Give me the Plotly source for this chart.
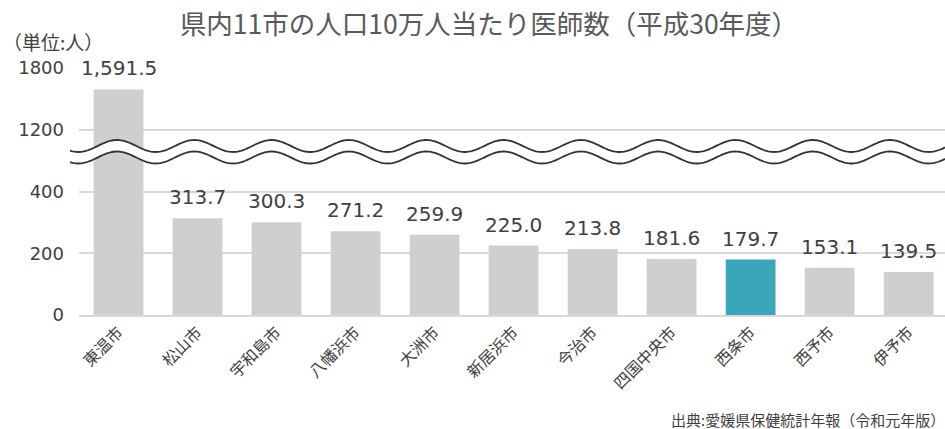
import math
import plotly.graph_objects as go

# ---- data ----
cities = ["東温市", "松山市", "宇和島市", "八幡浜市", "大洲市", "新居浜市",
          "今治市", "四国中央市", "西条市", "西予市", "伊予市"]
doctors = [1591.5, 313.7, 300.3, 271.2, 259.9, 225.0, 213.8, 181.6, 179.7, 153.1, 139.5]
highlight_city = "西条市"
ytick_labels = [0, 200, 400, 1200, 1800]

TITLE = "県内11市の人口10万人当たり医師数（平成30年度）"
UNIT = "（単位:人）"
SOURCE = "出典:愛媛県保健統計年報（令和元年版）"

# ---- broken-axis mapping (0-400 linear, then 1200-1800 compressed) ----
def mapy(v):
    return v if v <= 400 else 600 + (v - 1200) / 3.0

mapped = [mapy(v) for v in doctors]
tickvals = [mapy(v) for v in ytick_labels]

GRAY = "#D0CECF"
TEAL = "#3AA6B9"
TXT = "#404040"
colors = [TEAL if c == highlight_city else GRAY for c in cities]

W, H = 945, 429
ML, MR, MT, MB = 79, 0, 68, 114
PW = W - ML - MR
PH = H - MT - MB
YMAX = 800

fig = go.Figure()
fig.add_trace(go.Bar(
    x=cities, y=mapped, marker=dict(color=colors, line=dict(width=0)),
    hoverinfo="skip", showlegend=False,
))

# value labels
for c, v, m in zip(cities, doctors, mapped):
    fig.add_annotation(
        x=c, y=m, text=f"{v:,.1f}", showarrow=False, yanchor="middle", yshift=21,
        font=dict(family="DejaVu Sans", size=20, color=TXT),
    )

# ---- wavy break band ----
def px_to_paper(xp):
    return (xp - ML) / PW

def py_to_data(yp):
    return (MT + PH - yp) / PH * YMAX

period = 77.3
x0p, x1p = 70, 945
amp = 6.0
def wave(center_px):
    pts = []
    n = int((x1p - x0p) / 1.5) + 1
    for i in range(n + 1):
        xp = x0p + (x1p - x0p) * i / n
        yp = center_px - amp * math.cos(2 * math.pi * (xp - 117) / period)
        pts.append((px_to_paper(xp), py_to_data(yp)))
    return pts

up = wave(146.0)
lo = wave(157.5)
def path_of(pts, start="M"):
    s = f"{start} {pts[0][0]:.5f},{pts[0][1]:.3f}"
    for x, y in pts[1:]:
        s += f" L {x:.5f},{y:.3f}"
    return s

fill_path = path_of(up) + " " + path_of(lo[::-1], start="L") + " Z"
fig.add_shape(type="path", path=fill_path, xref="paper", yref="y",
              fillcolor="white", line=dict(width=0), layer="above")
for pts in (up, lo):
    fig.add_shape(type="path", path=path_of(pts), xref="paper", yref="y",
                  line=dict(color="#333333", width=1.8), layer="above")

# unit + source
fig.add_annotation(text=UNIT, xref="paper", yref="paper",
                   x=px_to_paper(1), y=(MT + PH - 42) / PH, xanchor="left", yanchor="middle",
                   showarrow=False, font=dict(family="Noto Sans CJK JP", size=19, color=TXT))
fig.add_annotation(text=SOURCE, xref="paper", yref="paper",
                   x=px_to_paper(947), y=(MT + PH - 419) / PH, xanchor="right", yanchor="middle",
                   showarrow=False, font=dict(family="Noto Sans CJK JP", size=15, color=TXT))

fig.update_layout(
    width=W, height=H,
    margin=dict(l=ML, r=MR, t=MT, b=MB, pad=0, autoexpand=False),
    paper_bgcolor="white", plot_bgcolor="white",
    bargap=0.37,
    title=dict(text=TITLE, x=489 / W, xref="container", xanchor="center",
               y=1 - 25 / H, yref="container", yanchor="middle",
               font=dict(family="Noto Sans CJK JP", size=26.5, color="#595959")),
    xaxis=dict(range=[-0.5, 10.46], tickangle=-45, showgrid=False, showline=True,
               linecolor="#D9D9D9", linewidth=1.5, ticks="", automargin=False,
               tickfont=dict(family="Noto Sans CJK JP", size=16, color=TXT)),
    yaxis=dict(range=[0, YMAX], tickvals=tickvals, ticktext=[str(t) for t in ytick_labels],
               showgrid=True, gridcolor="#D9D9D9", gridwidth=1.5, zeroline=False,
               ticks="", ticklabelstandoff=14, automargin=False,
               tickfont=dict(family="DejaVu Sans", size=18, color=TXT)),
)

fig.write_html("out.html", config={"displayModeBar": False},
               post_script="document.body.style.margin='0px';document.body.style.overflow='hidden';")
